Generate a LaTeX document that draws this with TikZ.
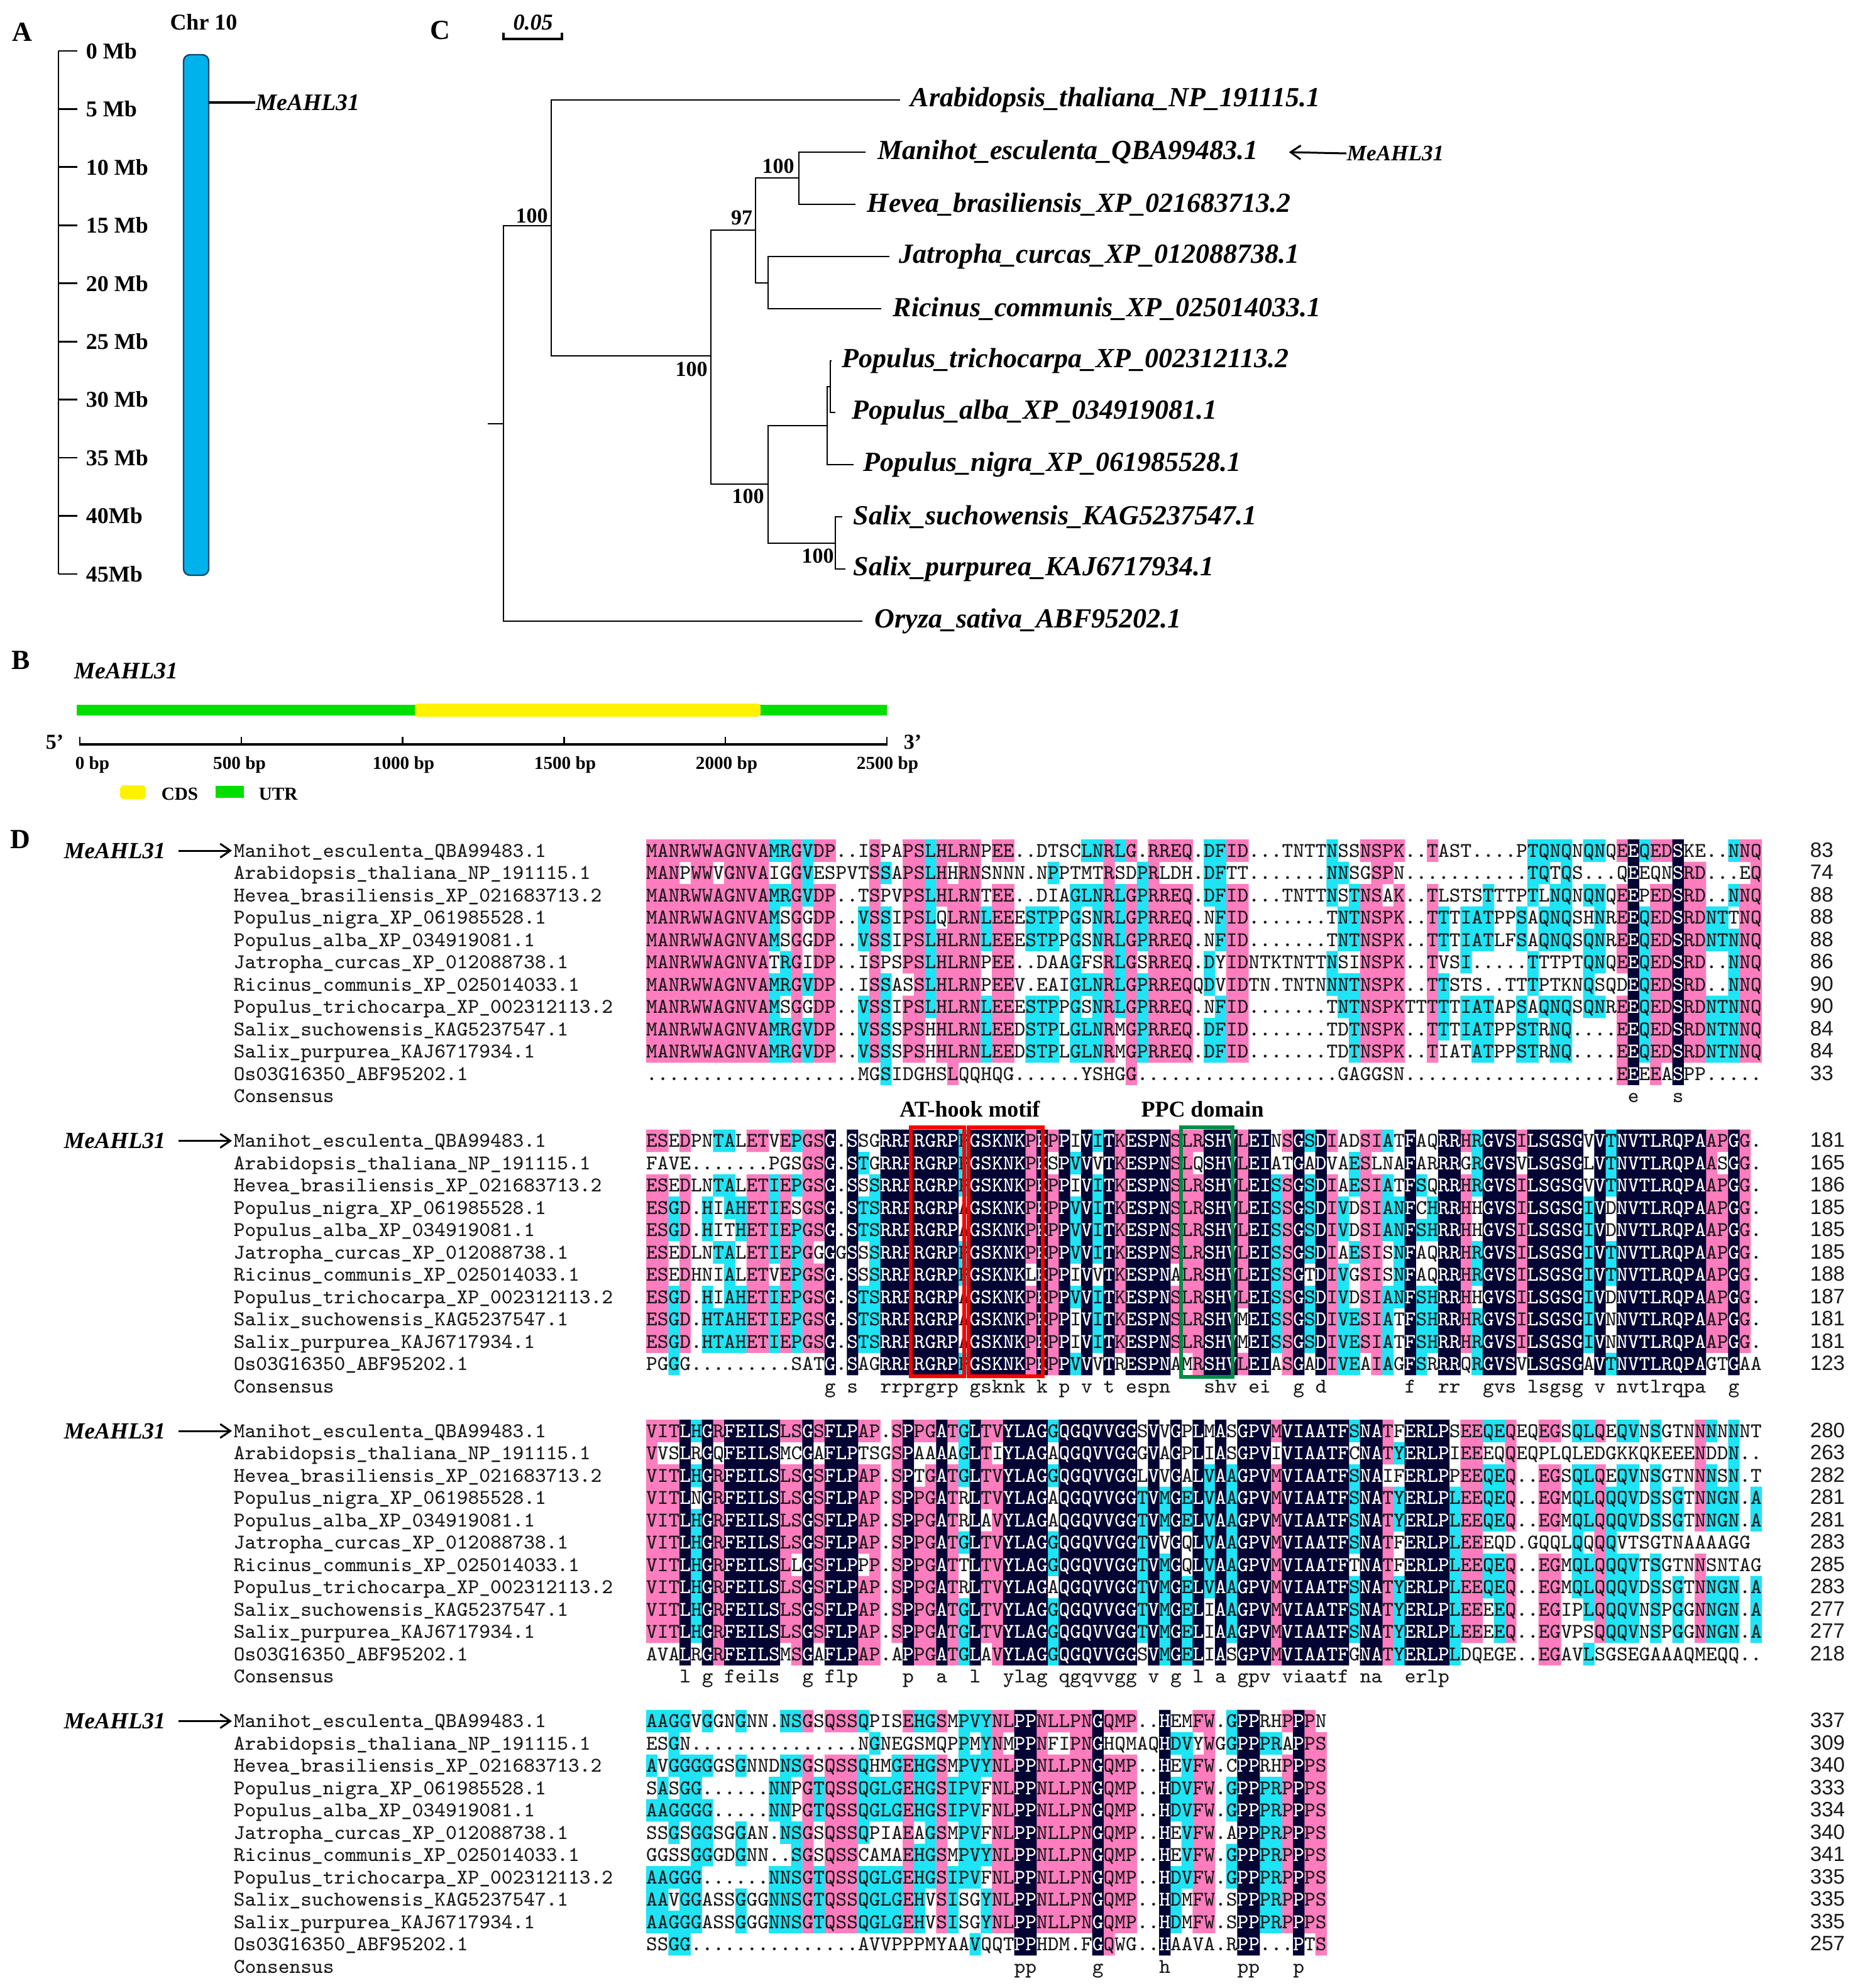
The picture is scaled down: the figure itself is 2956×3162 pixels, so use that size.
\documentclass[tikz,border=0pt]{standalone}
\usepackage{fontspec}
\setmainfont{Liberation Serif}
\setsansfont{Liberation Sans}
\usetikzlibrary{arrows.meta}

\definecolor{alnnavy}{RGB}{3,3,52}
\definecolor{alnpink}{RGB}{255,125,190}
\definecolor{alncyan}{RGB}{30,228,245}
\definecolor{alntext}{RGB}{25,25,25}
\definecolor{chrblue}{RGB}{0,178,236}
\definecolor{chredge}{RGB}{20,70,110}
\definecolor{utrgreen}{RGB}{0,222,0}
\definecolor{cdsyellow}{RGB}{255,242,0}
\definecolor{ppcgreen}{RGB}{0,140,70}

\newcommand\alnfont{\ttfamily\fontsize{8.356}{10}\selectfont}
\def\alnW{17.75}
\def\alnH{35.5}
\def\alnBase{10}

\newcommand\AlnRowTxt[4]{\node[alnrow,text=#3] at (#1,{#2+\alnBase}) {#4};}
\newcommand\AlnRowWhite[4]{\begin{scope}\clip #3; \node[alnrow,text=white] at (#1,{#2+\alnBase}) {#4};\end{scope}}
\newcommand\AlnCons[3]{\node[alnchr,text=alntext] at (#1,{#2+\alnBase}) {\lowercase{#3}};}

\ExplSyntaxOn
\int_new:N \g_aln_nrows_int
\int_new:N \l_aln_len_int
\int_new:N \l_aln_best_int
\int_new:N \l_aln_cnt_int
\int_new:N \l_aln_runstart_int
\tl_new:N \l_aln_best_tl
\tl_new:N \l_aln_c_tl
\tl_new:N \l_aln_d_tl
\tl_new:N \l_aln_b_tl
\tl_new:N \l_aln_lev_tl
\tl_new:N \l_aln_bg_tl
\tl_new:N \l_aln_x_tl
\tl_new:N \l_aln_y_tl
\tl_new:N \l_aln_code_tl
\tl_new:N \l_aln_runcode_tl
\tl_new:N \l_aln_pinkp_tl
\tl_new:N \l_aln_cyanp_tl
\tl_new:N \l_aln_navyp_tl
\tl_new:N \l_aln_rowclip_tl
\seq_new:N \l_aln_lev_seq
\seq_new:N \l_aln_best_seq
\bool_new:N \l_aln_res_bool

\NewDocumentCommand \AlnReset { } { \int_gzero:N \g_aln_nrows_int }
\NewDocumentCommand \AlnRow { m }
  {
    \int_gincr:N \g_aln_nrows_int
    \tl_gclear_new:c { g__aln_row_ \int_use:N \g_aln_nrows_int _tl }
    \tl_gset:cn { g__aln_row_ \int_use:N \g_aln_nrows_int _tl } {#1}
  }
\cs_new:Npn \__aln_item:nn #1#2 { \tl_item:cn { g__aln_row_ #1 _tl } {#2} }

\cs_new_protected:Npn \__aln_isres:N #1
  {
    \bool_set_true:N \l_aln_res_bool
    \tl_if_empty:NT #1 { \bool_set_false:N \l_aln_res_bool }
    \str_if_eq:VnT #1 { . } { \bool_set_false:N \l_aln_res_bool }
  }

\cs_new_protected:Npn \__aln_colstat:n #1
  {
    \int_zero:N \l_aln_best_int
    \tl_clear:N \l_aln_best_tl
    \int_step_inline:nn { \g_aln_nrows_int }
      {
        \tl_set:Nx \l_aln_c_tl { \__aln_item:nn {##1} {#1} }
        \__aln_isres:N \l_aln_c_tl
        \bool_if:NT \l_aln_res_bool
          {
            \int_zero:N \l_aln_cnt_int
            \int_step_inline:nn { \g_aln_nrows_int }
              {
                \tl_set:Nx \l_aln_d_tl { \__aln_item:nn {####1} {#1} }
                \str_if_eq:VVT \l_aln_c_tl \l_aln_d_tl { \int_incr:N \l_aln_cnt_int }
              }
            \int_compare:nNnT { \l_aln_cnt_int } > { \l_aln_best_int }
              {
                \int_set_eq:NN \l_aln_best_int \l_aln_cnt_int
                \tl_set_eq:NN \l_aln_best_tl \l_aln_c_tl
              }
          }
      }
    \tl_set:Nn \l_aln_bg_tl { - }
    \int_compare:nNnTF { \l_aln_best_int } = { \g_aln_nrows_int }
      { \tl_set:Nn \l_aln_bg_tl { n } }
      {
        \int_compare:nNnTF { 4 * \l_aln_best_int } < { 3 * \g_aln_nrows_int }
          {
            \int_compare:nNnF { 5 * \l_aln_best_int } < { 2 * \g_aln_nrows_int }
              { \tl_set:Nn \l_aln_bg_tl { c } }
          }
          { \tl_set:Nn \l_aln_bg_tl { p } }
      }
    \seq_put_right:NV \l_aln_lev_seq \l_aln_bg_tl
    \seq_put_right:NV \l_aln_best_seq \l_aln_best_tl
  }

\cs_new:Npn \__aln_rect:nnnn #1#2#3#4
  {
    ( \fp_eval:n { #1 + (#3 - 1) * \alnW - 0.2 } , \fp_eval:n { #2 - 17.9 } )
    rectangle
    ( \fp_eval:n { #1 + (#4 - 1) * \alnW + 0.2 } , \fp_eval:n { #2 + 17.9 } )
  }

\cs_new_protected:Npn \__aln_flush:nnn #1#2#3
  {
    \exp_args:NV \str_case:nnF \l_aln_runcode_tl
      {
        { p } { \tl_put_right:Nx \l_aln_pinkp_tl { \__aln_rect:nnnn {#1} {#2} { \int_use:N \l_aln_runstart_int } {#3} } }
        { c } { \tl_put_right:Nx \l_aln_cyanp_tl { \__aln_rect:nnnn {#1} {#2} { \int_use:N \l_aln_runstart_int } {#3} } }
        { n }
          {
            \tl_put_right:Nx \l_aln_navyp_tl { \__aln_rect:nnnn {#1} {#2} { \int_use:N \l_aln_runstart_int } {#3} }
            \tl_put_right:Nx \l_aln_rowclip_tl { \__aln_rect:nnnn {#1} {#2} { \int_use:N \l_aln_runstart_int } {#3} }
          }
      }
      { }
  }

\cs_new_protected:Npn \__aln_row:nnn #1#2#3
  {
    \tl_set:Nx \l_aln_y_tl { \fp_eval:n { #2 + (#3 - 1) * \alnH } }
    \tl_clear:N \l_aln_rowclip_tl
    \tl_set:Nn \l_aln_runcode_tl { - }
    \int_set:Nn \l_aln_runstart_int { 1 }
    \int_step_inline:nn { \l_aln_len_int }
      {
        \tl_set:Nx \l_aln_c_tl { \__aln_item:nn {#3} {##1} }
        \tl_set:Nx \l_aln_lev_tl { \seq_item:Nn \l_aln_lev_seq {##1} }
        \tl_set:Nx \l_aln_b_tl { \seq_item:Nn \l_aln_best_seq {##1} }
        \tl_set:Nn \l_aln_code_tl { - }
        \tl_if_empty:NF \l_aln_c_tl
          { \str_if_eq:VVT \l_aln_c_tl \l_aln_b_tl { \tl_set_eq:NN \l_aln_code_tl \l_aln_lev_tl } }
        \str_if_eq:VVF \l_aln_code_tl \l_aln_runcode_tl
          {
            \__aln_flush:nnn {#1} { \l_aln_y_tl } {##1}
            \tl_set_eq:NN \l_aln_runcode_tl \l_aln_code_tl
            \int_set:Nn \l_aln_runstart_int {##1}
          }
      }
    \__aln_flush:nnn {#1} { \l_aln_y_tl } { \int_eval:n { \l_aln_len_int + 1 } }
    \tl_gclear_new:c { g__aln_clip_ #3 _tl }
    \tl_gset_eq:cN { g__aln_clip_ #3 _tl } \l_aln_rowclip_tl
  }

\NewDocumentCommand \AlnDraw { m m }
  {
    \int_zero:N \l_aln_len_int
    \int_step_inline:nn { \g_aln_nrows_int }
      {
        \int_set:Nn \l_aln_len_int
          { \int_max:nn { \l_aln_len_int } { \tl_count:c { g__aln_row_ ##1 _tl } } }
      }
    \seq_clear:N \l_aln_lev_seq
    \seq_clear:N \l_aln_best_seq
    \tl_clear:N \l_aln_pinkp_tl
    \tl_clear:N \l_aln_cyanp_tl
    \tl_clear:N \l_aln_navyp_tl
    \int_step_inline:nn { \l_aln_len_int } { \__aln_colstat:n {##1} }
    \int_step_inline:nn { \g_aln_nrows_int } { \__aln_row:nnn {#1} {#2} {##1} }
    \tl_if_empty:NF \l_aln_pinkp_tl
      { \use:x { \exp_not:N \fill [alnpink] \exp_not:V \l_aln_pinkp_tl ; } }
    \tl_if_empty:NF \l_aln_cyanp_tl
      { \use:x { \exp_not:N \fill [alncyan] \exp_not:V \l_aln_cyanp_tl ; } }
    \tl_if_empty:NF \l_aln_navyp_tl
      { \use:x { \exp_not:N \fill [alnnavy] \exp_not:V \l_aln_navyp_tl ; } }
    \int_step_inline:nn { \g_aln_nrows_int }
      {
        \use:x
          {
            \exp_not:N \AlnRowTxt {#1} { \fp_eval:n { #2 + (##1 - 1) * \alnH } } {alntext}
              { \exp_not:v { g__aln_row_ ##1 _tl } }
          }
        \tl_if_empty:cF { g__aln_clip_ ##1 _tl }
          {
            \use:x
              {
                \exp_not:N \AlnRowWhite {#1} { \fp_eval:n { #2 + (##1 - 1) * \alnH } }
                  { \exp_not:v { g__aln_clip_ ##1 _tl } }
                  { \exp_not:v { g__aln_row_ ##1 _tl } }
              }
          }
      }
    \int_step_inline:nn { \l_aln_len_int }
      {
        \tl_set:Nx \l_aln_lev_tl { \seq_item:Nn \l_aln_lev_seq {##1} }
        \str_if_eq:VnT \l_aln_lev_tl { n }
          {
            \tl_set:Nx \l_aln_b_tl { \seq_item:Nn \l_aln_best_seq {##1} }
            \tl_set:Nx \l_aln_x_tl { \fp_eval:n { #1 + (##1 - 0.5) * \alnW } }
            \tl_set:Nx \l_aln_y_tl { \fp_eval:n { #2 + \g_aln_nrows_int * \alnH } }
            \use:x { \exp_not:N \AlnCons {\l_aln_x_tl} {\l_aln_y_tl} {\l_aln_b_tl} }
          }
      }
  }
\ExplSyntaxOff

\tikzset{
  panel/.style={font=\bfseries\fontsize{11}{12}\selectfont, inner sep=0pt},
  mb/.style={font=\bfseries\fontsize{9}{10}\selectfont, anchor=west, inner sep=0pt},
  gene/.style={font=\bfseries\itshape\fontsize{9.2}{10}\selectfont, inner sep=0pt},
  leaf/.style={font=\bfseries\itshape\fontsize{11}{12}\selectfont, anchor=west, inner sep=0pt},
  boot/.style={font=\bfseries\fontsize{8.5}{9}\selectfont, inner sep=0pt},
  bp/.style={font=\bfseries\fontsize{7.3}{8}\selectfont, inner sep=0pt},
  hdr/.style={font=\bfseries\fontsize{9}{10}\selectfont, inner sep=0pt},
  alnchr/.style={anchor=base, inner sep=0pt, outer sep=0pt, font=\alnfont},
  alnrow/.style={anchor=base west, inner sep=0pt, outer sep=0pt, font=\alnfont},
  alnname/.style={anchor=base west, inner sep=0pt, font=\alnfont, text=alntext},
  alnnum/.style={anchor=base west, inner sep=0pt, font=\sffamily\fontsize{8.3}{9}\selectfont, text=alntext},
  tree/.style={line width=0.7pt, line join=miter},
  arr/.style={line width=0.75pt, -{Straight Barb[length=4pt,width=5.5pt]}},
}

\newcommand\AlnNames[1]{%
  \foreach \nm [count=\i] in {Manihot\_esculenta\_QBA99483.1,Arabidopsis\_thaliana\_NP\_191115.1,Hevea\_brasiliensis\_XP\_021683713.2,Populus\_nigra\_XP\_061985528.1,Populus\_alba\_XP\_034919081.1,Jatropha\_curcas\_XP\_012088738.1,Ricinus\_communis\_XP\_025014033.1,Populus\_trichocarpa\_XP\_002312113.2,Salix\_suchowensis\_KAG5237547.1,Salix\_purpurea\_KAJ6717934.1,Os03G16350\_ABF95202.1,Consensus}
    {\node[alnname] (nm\i) at (371,{#1+(\i-1)*\alnH+\alnBase}) {\nm};}%
}
\newcommand\AlnNums[2]{%
  \foreach \nn [count=\i] in {#2}
    {\node[alnnum] (nb\i) at (2879,{#1+(\i-1)*\alnH+\alnBase}) {\nn};}%
}
\newcommand\AlnTag[2]{%
  \node[gene, anchor=west] (#2) at (101,#1) {MeAHL31};
  \coordinate (#2s) at (284,#1);
  \coordinate (#2e) at (369,#1);
  \draw[arr] (#2s) -- (#2e);
}

\begin{document}
\newlength\alnwd
\settowidth\alnwd{\alnfont M}
\makeatletter
\edef\alnW{\strip@pt\dimexpr 4\alnwd\relax}
\makeatother
\begin{tikzpicture}[x=0.25pt,y=-0.25pt]
\fill[white] (0,0) rectangle (2956,3162);
\useasboundingbox (0,0) rectangle (2956,3162);

% ================= Panel A =================
\node[panel] (labA) at (35,51) {A};
\node[hdr] (chr) at (324,35) {Chr 10};
\draw[line width=0.7pt] (93,81) -- (93,913);
\foreach \lab [count=\k from 0] in {0 Mb,5 Mb,10 Mb,15 Mb,20 Mb,25 Mb,30 Mb,35 Mb,40Mb,45Mb}{
  \draw[line width=0.7pt] (93,{81+\k*92.44}) -- (123,{81+\k*92.44});
  \node[mb] (mb\k) at (136,{81+\k*92.44}) {\lab};
}
\draw[fill=chrblue, draw=chredge, line width=0.6pt, rounded corners=2.6pt] (292,87) rectangle (332,915);
\coordinate (mk1) at (332,163);
\node[gene, anchor=west, font=\bfseries\itshape\fontsize{9.4}{10}\selectfont] (geneA) at (406,163) {MeAHL31};
\draw[line width=0.9pt] (mk1) -- (geneA.west);

% ================= Panel C =================
\node[panel] (labC) at (700,48) {C};
\node[font=\bfseries\itshape\fontsize{9}{10}\selectfont, inner sep=0pt] (sc) at (848,36) {0.05};
\draw[line width=0.8pt] (801,52) -- (801,62) -- (894,62) -- (894,52);

\coordinate (rootstub) at (776,674);
\coordinate (root) at (801,674);
\coordinate (n1) at (877,359);
\coordinate (n2) at (1131,566);
\coordinate (n3) at (1202,366);
\coordinate (n4) at (1271,283);
\coordinate (n5) at (1222,450);
\coordinate (n6) at (1222,770);
\coordinate (n7) at (1316,677);
\coordinate (n8) at (1321,615);
\coordinate (n9) at (1329,864);
\coordinate (lAra) at (1432,159);
\coordinate (lMan) at (1377,242);
\coordinate (lHev) at (1361,325);
\coordinate (lJat) at (1415,408);
\coordinate (lRic) at (1402,491);
\coordinate (lPtri) at (1323,574);
\coordinate (lPalb) at (1329,656);
\coordinate (lPnig) at (1358,739);
\coordinate (lSsu) at (1340,822);
\coordinate (lSpu) at (1345,905);
\coordinate (lOry) at (1372,988);

\draw[tree] (rootstub) -- (root);
\draw[tree] (root) |- (n1);
\draw[tree] (root) |- (lOry);
\draw[tree] (n1) |- (lAra);
\draw[tree] (n1) |- (n2);
\draw[tree] (n2) |- (n3);
\draw[tree] (n2) |- (n6);
\draw[tree] (n3) |- (n4);
\draw[tree] (n3) |- (n5);
\draw[tree] (n4) |- (lMan);
\draw[tree] (n4) |- (lHev);
\draw[tree] (n5) |- (lJat);
\draw[tree] (n5) |- (lRic);
\draw[tree] (n6) |- (n7);
\draw[tree] (n6) |- (n9);
\draw[tree] (n7) |- (n8);
\draw[tree] (n7) |- (lPnig);
\draw[tree] (n8) |- (lPtri);
\draw[tree] (n8) |- (lPalb);
\draw[tree] (n9) |- (lSsu);
\draw[tree] (n9) |- (lSpu);

\node[leaf] (tAra) at (1448,159) {Arabidopsis\_thaliana\_NP\_191115.1};
\node[leaf] (tMan) at (1396,242) {Manihot\_esculenta\_QBA99483.1};
\node[leaf] (tHev) at (1379,325) {Hevea\_brasiliensis\_XP\_021683713.2};
\node[leaf] (tJat) at (1430,408) {Jatropha\_curcas\_XP\_012088738.1};
\node[leaf] (tRic) at (1420,491) {Ricinus\_communis\_XP\_025014033.1};
\node[leaf] (tPtri) at (1339,574) {Populus\_trichocarpa\_XP\_002312113.2};
\node[leaf] (tPalb) at (1355,656) {Populus\_alba\_XP\_034919081.1};
\node[leaf] (tPnig) at (1373,739) {Populus\_nigra\_XP\_061985528.1};
\node[leaf] (tSsu) at (1357,822) {Salix\_suchowensis\_KAG5237547.1};
\node[leaf] (tSpu) at (1357,905) {Salix\_purpurea\_KAJ6717934.1};
\node[leaf] (tOry) at (1391,988) {Oryza\_sativa\_ABF95202.1};

\node[boot] (b1) at (846,343) {100};
\node[boot] (b2) at (1100,587) {100};
\node[boot] (b3) at (1180,346) {97};
\node[boot] (b4) at (1238,264) {100};
\node[boot] (b6) at (1190,789) {100};
\node[boot] (b9) at (1301,884) {100};

\node[gene, anchor=west, font=\bfseries\itshape\fontsize{8.8}{10}\selectfont] (geneC) at (2142,244) {MeAHL31};
\draw[arr] (geneC.west) -- ([xshift=12]tMan.east);

% ================= Panel B =================
\node[panel] (labB) at (33,1050) {B};
\node[gene, anchor=west, font=\bfseries\itshape\fontsize{9.4}{10}\selectfont] (geneB) at (117,1067) {MeAHL31};
\fill[utrgreen] (122,1121) rectangle (662,1138);
\fill[utrgreen] (1208,1121) rectangle (1411,1138);
\fill[cdsyellow, rounded corners=1.2pt] (660,1119) rectangle (1210,1140);
\draw[line width=1pt] (127,1184) -- (1411,1184);
\foreach \k in {0,...,5}{
  \draw[line width=0.6pt] ({127+\k*256.8},1172) -- ({127+\k*256.8},1186);
}
\node[bp] (bp0) at (147,1216) {0 bp};
\node[bp] (bp1) at (381,1216) {500 bp};
\node[bp] (bp2) at (642,1216) {1000 bp};
\node[bp] (bp3) at (899,1216) {1500 bp};
\node[bp] (bp4) at (1156,1216) {2000 bp};
\node[bp] (bp5) at (1412,1216) {2500 bp};
\node[font=\bfseries\fontsize{8.5}{9}\selectfont, inner sep=0pt] (p5) at (87,1180) {5’};
\node[font=\bfseries\fontsize{8.5}{9}\selectfont, inner sep=0pt] (p3) at (1452,1180) {3’};
\fill[cdsyellow, rounded corners=1.5pt] (191,1249) rectangle (232,1271);
\node[bp, anchor=west] (cds) at (256,1263) {CDS};
\fill[utrgreen] (343,1250) rectangle (388,1269);
\node[bp, anchor=west] (utr) at (411,1263) {UTR};

% ================= Panel D =================
\node[panel] (labD) at (32,1335) {D};

% ---- Block 1 ----
\AlnReset
\AlnRow{MANRWWAGNVAMRGVDP..ISPAPSLHLRNPEE..DTSCLNRLG.RREQ.DFID...TNTTNSSNSPK..TAST....PTQNQNQNQEEQEDSKE..NNQ}
\AlnRow{MANPWWVGNVAIGGVESPVTSSAPSLHHRNSNNN.NPPTMTRSDPRLDH.DFTT.......NNSGSPN...........TQTQS...QEEQNSRD...EQ}
\AlnRow{MANRWWAGNVAMRGVDP..TSPVPSLHLRNTEE..DIAGLNRLGPRREQ.DFID...TNTTNSTNSAK..TLSTSTTTPTLNQNQNQEEPEDSRD..NNQ}
\AlnRow{MANRWWAGNVAMSGGDP..VSSIPSLQLRNLEEESTPPGSNRLGPRREQ.NFID.......TNTNSPK..TTTIATPPSAQNQSHNREEQEDSRDNTTNQ}
\AlnRow{MANRWWAGNVAMSGGDP..VSSIPSLHLRNLEEESTPPGSNRLGPRREQ.NFID.......TNTNSPK..TTTIATLFSAQNQSQNREEQEDSRDNTNNQ}
\AlnRow{MANRWWAGNVATRGIDP..ISPSPSLHLRNPEE..DAAGFSRLGSRREQ.DYIDNTKTNTTNSINSPK..TVSI.....TTTPTQNQEEQEDSRD..NNQ}
\AlnRow{MANRWWAGNVAMRGVDP..ISSASSLHLRNPEEV.EAIGLNRLGPRREQQDVIDTN.TNTNNNTNSPK..TTSTS..TTTPTKNQSQDEQEDSRD..NNQ}
\AlnRow{MANRWWAGNVAMSGGDP..VSSIPSLHLRNLEEESTPPGSNRLGPRREQ.NFID.......TNTNSPKTTTTTIATAPSAQNQSQNREEQEDSRDNTNNQ}
\AlnRow{MANRWWAGNVAMRGVDP..VSSSPSHHLRNLEEDSTPLGLNRMGPRREQ.DFID.......TDTNSPK..TTTIATPPSTRNQ....EEQEDSRDNTNNQ}
\AlnRow{MANRWWAGNVAMRGVDP..VSSSPSHHLRNLEEDSTPLGLNRMGPRREQ.DFID.......TDTNSPK..TIATATPPSTRNQ....EEQEDSRDNTNNQ}
\AlnRow{...................MGSIDGHSLQQHQG......YSHGG..................GAGGSN...................EEEEASPP.....}
\AlnDraw{1028}{1353}
\AlnNames{1353}
\AlnNums{1353}{83,74,88,88,88,86,90,90,84,84,33}
\AlnTag{1353}{tagA}

% ---- Block 2 ----
\node[hdr] (athook) at (1543,1764) {AT-hook motif};
\node[hdr] (ppc) at (1913,1764) {PPC domain};
\AlnReset
\AlnRow{ESEDPNTALETVEPGSG.SSGRRPRGRPPGSKNKPKPPIVITKESPNSLRSHVLEINSGSDIADSIATFAQRRHRGVSILSGSGVVTNVTLRQPAAPGG.}
\AlnRow{FAVE.......PGSGSG.STGRRPRGRPPGSKNKPKSPVVVTKESPNSLQSHVLEIATGADVAESLNAFARRRGRGVSVLSGSGLVTNVTLRQPAASGG.}
\AlnRow{ESEDLNTALETIEPGSG.SSSRRPRGRPPGSKNKPKPPIVITKESPNSLRSHVLEISSGSDIAESIATFSQRRHRGVSILSGSGVVTNVTLRQPAAPGG.}
\AlnRow{ESGD.HIAHETIESGSG.STSRRPRGRPAGSKNKPKPPVVITKESPNSLRSHVLEISSGSDIVDSIANFCHRRHHGVSILSGSGIVDNVTLRQPAAPGG.}
\AlnRow{ESGD.HITHETIEPGSG.STSRRPRGRPAGSKNKPKPPVVITKESPNSLRSHVLEISSGSDIVDSIANFSHRRHHGVSILSGSGIVDNVTLRQPAAPGG.}
\AlnRow{ESEDLNTALETIEPGGGGSSSRRPRGRPPGSKNKPKPPVVITKESPNSLRSHVLEISSGSDIAESISNFAQRRHRGVSILSGSGIVTNVTLRQPAAPGG.}
\AlnRow{ESEDHNIALETVEPGSG.SSSRRPRGRPPGSKNKLKPPIVVTKESPNALRSHVLEISSGTDIVGSISNFAQRRHRGVSILSGSGIVTNVTLRQPAAPGG.}
\AlnRow{ESGD.HIAHETIEPGSG.STSRRPRGRPAGSKNKPKPPVVITKESPNSLRSHVLEISSGSDIVDSIANFSHRRHHGVSILSGSGIVDNVTLRQPAAPGG.}
\AlnRow{ESGD.HTAHETIEPGSG.STSRRPRGRPAGSKNKPKPPIVITKESPNSLRSHVMEISSGSDIVESIATFSHRRHRGVSILSGSGIVNNVTLRQPAAPGG.}
\AlnRow{ESGD.HTAHETIEPGSG.STSRRPRGRPAGSKNKPKPPIVITKESPNSLRSHVMEISSGSDIVESIATFSHRRHRGVSILSGSGIVNNVTLRQPAAPGG.}
\AlnRow{PGGG.........SATG.SAGRRPRGRPPGSKNKPKPPVVVTRESPNAMRSHVLEIASGADIVEAIAGFSRRRQRGVSVLSGSGAVTNVTLRQPAGTGAA}
\AlnDraw{1028}{1814.5}
\AlnNames{1814.5}
\AlnNums{1814.5}{181,165,186,185,185,185,188,187,181,181,123}
\AlnTag{1814.5}{tagB}
\draw[red, line width=1.3pt] (1449,1793) rectangle (1534,2189);
\draw[red, line width=1.3pt] (1541,1793) rectangle (1659,2189);
\draw[ppcgreen, line width=1.3pt] (1879,1793) rectangle (1961,2190);

% ---- Block 3 ----
\AlnReset
\AlnRow{VITLHGRFEILSLSGSFLPAP.SPPGATGLTVYLAGGQGQVVGGSVVGPLMASGPVMVIAATFSNATFERLPSEEQEQEQEGSQLQEQVNSGTNNNNNNT}
\AlnRow{VVSLRGQFEILSMCGAFLPTSGSPAAAAGLTIYLAGAQGQVVGGGVAGPLIASGPVIVIAATFCNATYERLPIEEEQQEQPLQLEDGKKQKEEENDDN..}
\AlnRow{VITLHGRFEILSLSGSFLPAP.SPTGATGLTVYLAGGQGQVVGGLVVGALVAAGPVMVIAATFSNAIFERLPPEEQEQ..EGSQLQEQVNSGTNNNSN.T}
\AlnRow{VITLNGRFEILSLSGSFLPAP.SPPGATRLTVYLAGAQGQVVGGTVMGELVAAGPVMVIAATFSNATYERLPLEEQEQ..EGMQLQQQVDSSGTNNGN.A}
\AlnRow{VITLHGRFEILSLSGSFLPAP.SPPGATRLAVYLAGAQGQVVGGTVMGELVAAGPVMVIAATFSNATYERLPLEEQEQ..EGMQLQQQVDSSGTNNGN.A}
\AlnRow{VITLHGRFEILSLSGSFLPAP.SPPGATGLTVYLAGGQGQVVGGTVVGQLVAAGPVMVIAATFSNATFERLPLEEEQD.GQQLQQQQVTSGTNAAAAGG}
\AlnRow{VITLHGRFEILSLLGSFLPPP.SPPGATTLTVYLAGGQGQVVGGTVMGQLVAAGPVMVIAATFTNATFERLPLEEQEQ..EGMQLQQQVTSGTNNSNTAG}
\AlnRow{VITLHGRFEILSLSGSFLPAP.SPPGATRLTVYLAGAQGQVVGGTVMGELVAAGPVMVIAATFSNATYERLPLEEQEQ..EGMQLQQQVDSSGTNNGN.A}
\AlnRow{VITLHGRFEILSLSGSFLPAP.SPPGATGLTVYLAGGQGQVVGGTVMGELIAAGPVMVIAATFSNATYERLPLEEEEQ..EGIPLQQQVNSPGGNNGN.A}
\AlnRow{VITLHGRFEILSLSGSFLPAP.SPPGATGLTVYLAGGQGQVVGGTVMGELIAAGPVMVIAATFSNATYERLPLEEEEQ..EGVPSQQQVNSPGGNNGN.A}
\AlnRow{AVALRGRFEILSMSGAFLPAP.APPGATGLAVYLAGGQGQVVGGSVMGELIASGPVMVIAATFGNATYERLPLDQEGE..EGAVLSGSEGAAAQMEQQ..}
\AlnDraw{1028}{2276}
\AlnNames{2276}
\AlnNums{2276}{280,263,282,281,281,283,285,283,277,277,218}
\AlnTag{2276}{tagC}

% ---- Block 4 ----
\AlnReset
\AlnRow{AAGGVGGNGNN.NSGSQSSQPISEHGSMPVYNLPPNLLPNGQMP..HEMFW.GPPRHPPPN}
\AlnRow{ESGN...............NGNEGSMQPPMYNMPPNFIPNGHQMAQHDVYWGGPPPRAPPS}
\AlnRow{AVGGGGGSGNNDNSGSQSSQHMGEHGSMPVYNLPPNLLPNGQMP..HEVFW.CPPRHPPPS}
\AlnRow{SASGG......NNPGTQSSQGLGEHGSIPVFNLPPNLLPNGQMP..HDVFW.GPPPRPPPS}
\AlnRow{AAGGGG.....NNPGTQSSQGLGEHGSIPVFNLPPNLLPNGQMP..HDVFW.GPPPRPPPS}
\AlnRow{SSGSGGSGGAN.NSGSQSSQPIAEAGSMPVFNLPPNLLPNGQMP..HEVFW.APPPRPPPS}
\AlnRow{GGSSGGGDGNN..SGSQSSCAMAEHGSMPVYNLPPNLLPNGQMP..HEVFW.GPPPRPPPS}
\AlnRow{AAGGG......NNSGTQSSQGLGEHGSIPVFNLPPNLLPNGQMP..HDVFW.GPPPRPPPS}
\AlnRow{AAVGGASSGGGNNSGTQSSQGLGEHVSISGYNLPPNLLPNGQMP..HDMFW.SPPPRPPPS}
\AlnRow{AAGGGASSGGGNNSGTQSSQGLGEHVSISGYNLPPNLLPNGQMP..HDMFW.SPPPRPPPS}
\AlnRow{SSGG...............AVVPPPMYAAVQQTPPHDM.FGQWG..HAAVA.RPP...PTS}
\AlnDraw{1028}{2737.5}
\AlnNames{2737.5}
\AlnNums{2737.5}{337,309,340,333,334,340,341,335,335,335,257}
\AlnTag{2737.5}{tagD}

\end{tikzpicture}
\end{document}
